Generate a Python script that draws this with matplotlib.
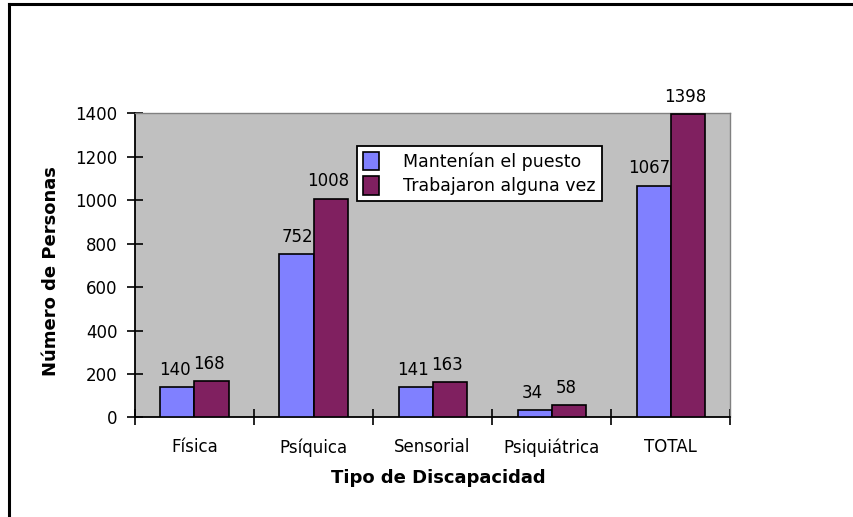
import numpy as np
import matplotlib
matplotlib.use("Agg")
import matplotlib.pyplot as plt
from matplotlib.lines import Line2D

# Datos
categorias = ["Física", "Psíquica", "Sensorial", "Psiquiátrica", "TOTAL"]
mantenian = [140, 752, 141, 34, 1067]
trabajaron = [168, 1008, 163, 58, 1398]
series_nombres = ["Mantenían el puesto", "Trabajaron alguna vez"]

AZUL = "#8080FF"
GRANATE = "#802060"
GRIS = "#C0C0C0"
FS = 12

plt.rcParams["font.family"] = ["DejaVu Sans"]

fig = plt.figure(figsize=(8.54, 5.17), dpi=100)
ax = fig.add_axes([0.158, 0.1925, 0.697, 0.588])
ax.set_facecolor(GRIS)

x = np.arange(len(categorias))
w = 0.286
b1 = ax.bar(x - w / 2, mantenian, w, color=AZUL, edgecolor="black", linewidth=1.2,
            label=series_nombres[0], zorder=3)
b2 = ax.bar(x + w / 2, trabajaron, w, color=GRANATE, edgecolor="black", linewidth=1.2,
            label=series_nombres[1], zorder=3)

# etiquetas de valores (si la barra vecina es mucho más alta, se alinea a la derecha)
for rect, v, v2 in zip(b1, mantenian, trabajaron):
    if v2 - v > 60:
        ax.annotate(str(v), (rect.get_x() + rect.get_width(), v), xytext=(0, 6),
                    textcoords="offset points", ha="right", va="bottom", fontsize=FS)
    else:
        ax.annotate(str(v), (rect.get_x() + rect.get_width() / 2, v), xytext=(-2, 6),
                    textcoords="offset points", ha="center", va="bottom", fontsize=FS)
for rect, v in zip(b2, trabajaron):
    ax.annotate(str(v), (rect.get_x() + rect.get_width() / 2, v), xytext=(-2, 6),
                textcoords="offset points", ha="center", va="bottom", fontsize=FS,
                annotation_clip=False)

ax.set_xlim(-0.5, len(categorias) - 0.5)
ax.set_ylim(0, 1400)
ax.set_yticks(np.arange(0, 1401, 200))

# ticks del eje x entre categorías, etiquetas centradas
ax.set_xticks(np.arange(-0.5, len(categorias)), minor=False)
ax.set_xticklabels([])
ax.set_xticks(x, minor=True)
ax.set_xticklabels(categorias, minor=True, fontsize=FS)
ax.tick_params(axis="x", which="major", direction="inout", length=12, width=1.2)
ax.tick_params(axis="x", which="minor", length=0, pad=15)
ax.tick_params(axis="y", direction="inout", length=11, width=1.2, labelsize=FS, pad=7)

for s in ["left", "bottom"]:
    ax.spines[s].set_color("black")
    ax.spines[s].set_linewidth(1.3)
for s in ["top", "right"]:
    ax.spines[s].set_color("#808080")
    ax.spines[s].set_linewidth(1.0)

ax.set_xlabel("Tipo de Discapacidad", fontsize=13, fontweight="bold")
ax.set_ylabel("Número de Personas", fontsize=13, fontweight="bold")
ax.xaxis.set_label_coords(0.509, -0.168)
ax.yaxis.set_label_coords(-0.126, 0.482)

leg = ax.legend(loc="upper left", bbox_to_anchor=(0.373, 0.893), fontsize=12.5,
                frameon=True, fancybox=False, framealpha=1, edgecolor="black",
                borderpad=0.35, borderaxespad=0, handlelength=0.9, handleheight=1.25,
                handletextpad=1.4, labelspacing=0.3)
leg.get_frame().set_linewidth(1.3)
leg.set_zorder(5)

# marco de la figura (solo izquierda y arriba visibles)
fig.add_artist(Line2D([9.5 / 854, 9.5 / 854], [0, 1 - 4 / 517], color="black", lw=2.2,
                      transform=fig.transFigure))
fig.add_artist(Line2D([9.5 / 854, 1], [1 - 4 / 517, 1 - 4 / 517], color="black", lw=2.2,
                      transform=fig.transFigure))

fig.savefig("out.png", dpi=100)
